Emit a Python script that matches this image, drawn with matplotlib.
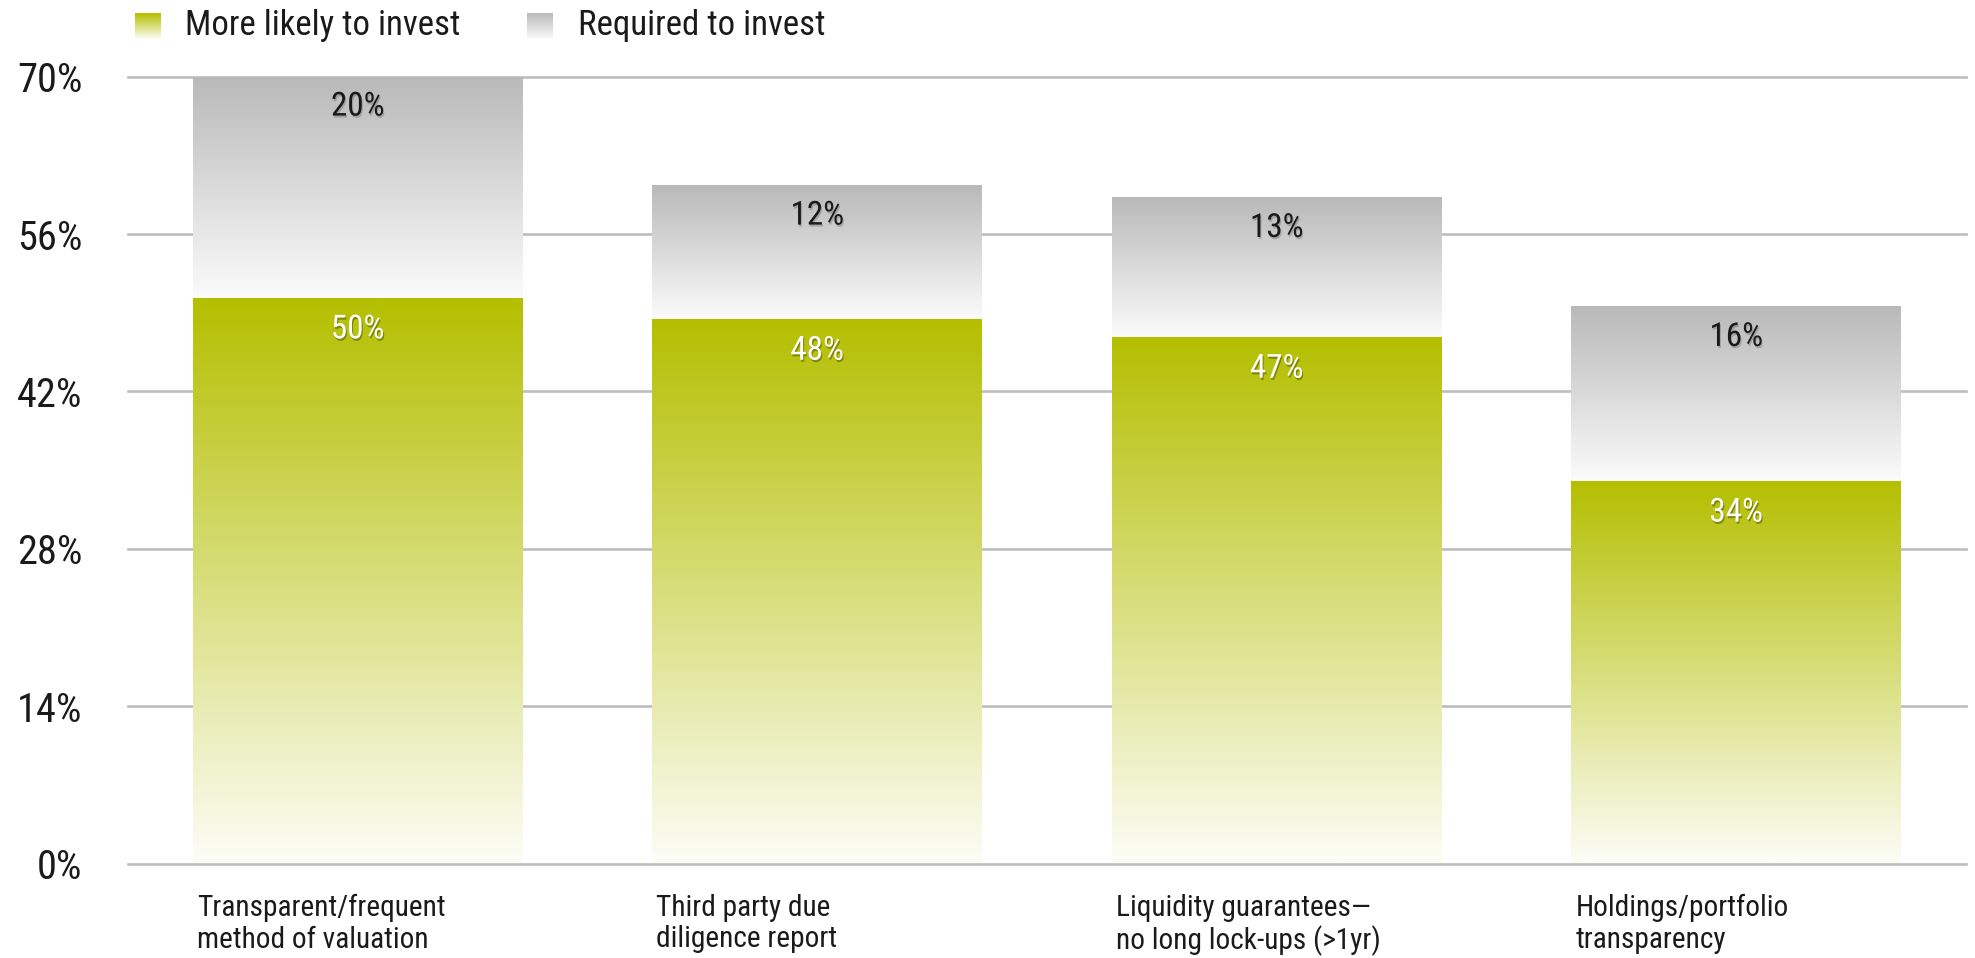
import numpy as np
import matplotlib
matplotlib.use("Agg")
import matplotlib.pyplot as plt
from matplotlib import patheffects as pe
from matplotlib import font_manager as fm
from matplotlib.colors import to_rgb
from matplotlib.textpath import TextPath

# ---- data ----
categories = [
    "Transparent/frequent\nmethod of valuation",
    "Third party due\ndiligence report",
    "Liquidity guarantees\u2014\nno long lock-ups (>1yr)",
    "Holdings/portfolio\ntransparency",
]
more_likely = [50.3, 48.4, 46.8, 34.0]
required = [19.7, 11.9, 12.4, 15.5]
more_likely_labels = [50, 48, 47, 34]
required_labels = [20, 12, 13, 16]
series_names = ["More likely to invest", "Required to invest"]
yticks = [0, 14, 28, 42, 56, 70]
ytick_labels = ["0%", "14%", "28%", "42%", "56%", "70%"]


# ---- font selection: prefer a condensed sans ----
def pick_font():
    entries = fm.fontManager.ttflist

    def ok(f):
        return f.style == "normal" and f.weight in (300, 400, "normal", "light", "regular")

    for name in ["Liberation Sans Narrow", "Roboto Condensed", "Open Sans Condensed",
                 "Noto Sans Condensed", "DejaVu Sans Condensed"]:
        for f in entries:
            if f.name == name and ok(f):
                return fm.FontProperties(fname=f.fname)
    for f in entries:
        if ("Condensed" in f.name or "Narrow" in f.name) and ok(f):
            return fm.FontProperties(fname=f.fname)
    for stretch in ("condensed", "semi-condensed", "extra-condensed"):
        for name in ["Roboto", "Open Sans", "Noto Sans", "DejaVu Sans", "Lato", "Inter"]:
            for f in entries:
                if f.name == name and f.stretch == stretch and ok(f):
                    return fm.FontProperties(fname=f.fname)
    return fm.FontProperties(family="DejaVu Sans")


FP = pick_font()
# scale sizes so text widths match the reference (condensed face)
_w = TextPath((0, 0), "Transparent/frequent", size=24, prop=FP).get_extents().width * 100 / 72
SCALE = min(1.0, 247.0 / _w)


def fprop(size):
    p = FP.copy()
    p.set_size(size * SCALE)
    return p


GREEN_TOP = "#b4bf00"
GREEN_BOT = "#fcfdf6"
GRAY_TOP = "#b9b9b9"
GRAY_BOT = "#fbfbfb"
GRID = "#bdbdbd"
TXT = "#1a1a1a"
BAR_W = 0.718

fig = plt.figure(figsize=(19.75, 9.58), dpi=100)
ax = fig.add_axes([128 / 1975, 94.5 / 958, (1966 - 128) / 1975, (881.3 - 94.5) / 958])


def gradient_img(top, bot, n=256):
    t = np.linspace(0, 1, n)[:, None, None]  # 0 bottom, 1 top
    a = np.array(to_rgb(bot))[None, None, :]
    b = np.array(to_rgb(top))[None, None, :]
    return a + (b - a) * t


def grad_bar(ax, x, bottom, height, top_c, bot_c):
    ax.imshow(gradient_img(top_c, bot_c),
              extent=(x - BAR_W / 2, x + BAR_W / 2, bottom, bottom + height),
              origin="lower", aspect="auto", interpolation="bilinear", zorder=2)


shadow_dark = [pe.withSimplePatchShadow(offset=(0.8, -1.5), shadow_rgbFace="k", alpha=0.18)]
shadow_light = [pe.withSimplePatchShadow(offset=(0.8, -1.5), shadow_rgbFace="k", alpha=0.3)]

xs = np.arange(len(categories))
for i, (g, r, gl, rl) in enumerate(zip(more_likely, required, more_likely_labels, required_labels)):
    grad_bar(ax, xs[i], 0, g, GREEN_TOP, GREEN_BOT)
    grad_bar(ax, xs[i], g, r, GRAY_TOP, GRAY_BOT)
    ax.annotate(f"{rl}%", xy=(xs[i], g + r), xytext=(0, -21.5), textcoords="offset points",
                ha="center", va="center", fontproperties=fprop(27), color=TXT, zorder=6,
                path_effects=shadow_dark)
    ax.annotate(f"{gl}%", xy=(xs[i], g), xytext=(0, -22.5), textcoords="offset points",
                ha="center", va="center", fontproperties=fprop(27), color="white", zorder=6,
                path_effects=shadow_light)
    ax.annotate(categories[i], xy=(xs[i] - BAR_W / 2, 0), xytext=(3, -22),
                textcoords="offset points", ha="left", va="top", fontproperties=fprop(24),
                color=TXT, linespacing=1.15, annotation_clip=False)

# gridlines
for v in yticks:
    ax.axhline(v, color=GRID, lw=1.9, zorder=5 if v == 0 else 1, clip_on=False)

ax.set_xlim(-0.5, 3.5)
ax.set_ylim(0, 70)
ax.set_yticks(yticks)
ax.set_yticklabels(ytick_labels)
for lab in ax.get_yticklabels():
    lab.set_fontproperties(fprop(33))
    lab.set_color(TXT)
ax.set_xticks([])
ax.tick_params(axis="y", length=0, pad=33)
for s in ax.spines.values():
    s.set_visible(False)

# legend (gradient swatches)
legend_items = [(series_names[0], GREEN_TOP, GREEN_BOT, 135, 185),
                (series_names[1], GRAY_TOP, GRAY_BOT, 527, 578)]
for name, tc, bc, sx, tx in legend_items:
    lax = fig.add_axes([sx / 1975, (958 - 39) / 958, 26 / 1975, 26 / 958])
    lax.imshow(gradient_img(tc, bc), origin="lower", aspect="auto", extent=(0, 1, 0, 1))
    lax.axis("off")
    fig.text(tx / 1975, (958 - 25) / 958, name, fontproperties=fprop(28.5), color=TXT,
             ha="left", va="center")

fig.savefig("out.png", dpi=100)
